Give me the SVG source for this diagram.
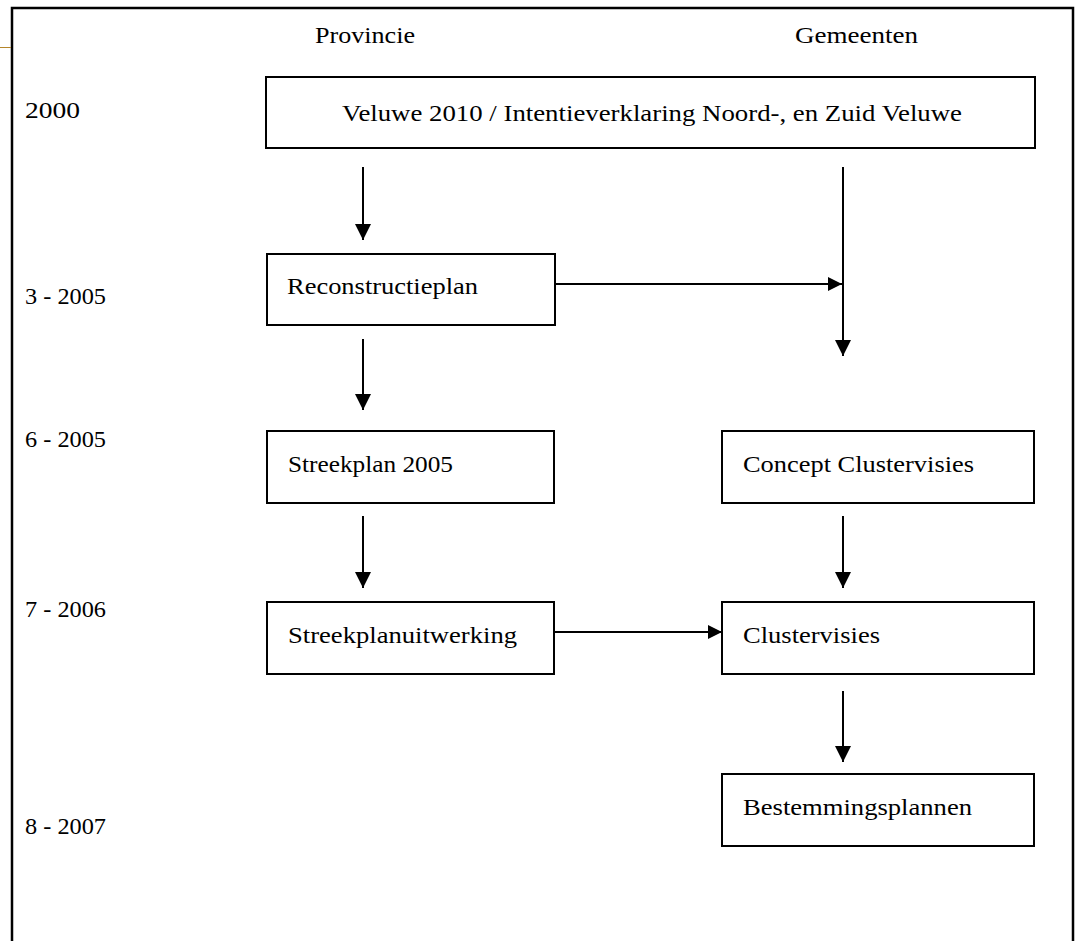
<svg xmlns="http://www.w3.org/2000/svg" width="1079" height="941" viewBox="0 0 1079 941">
<style>
.t{font-family:"Liberation Serif","Times New Roman",serif;font-size:24px;fill:#000}
.b{fill:#fff;stroke:#000;stroke-width:2}
.c{stroke:#000;stroke-width:2;fill:none}
.f{stroke:#000;stroke-width:2.5;fill:none}
</style>
<defs>
<marker id="ah" markerUnits="userSpaceOnUse" markerWidth="16" markerHeight="16" refX="16" refY="8" orient="auto" viewBox="0 0 16 16">
<path d="M0,0 L16,8 L0,16 z" fill="#000"/>
</marker>
<marker id="ah2" markerUnits="userSpaceOnUse" markerWidth="14" markerHeight="14" refX="14" refY="7" orient="auto" viewBox="0 0 14 14">
<path d="M0,0 L14,7 L0,14 z" fill="#000"/>
</marker>
</defs>
<rect width="1079" height="941" fill="#fff"/>
<g id="frame">
<path class="f" d="M12,941 L12,8 L1073,8 L1073,941"/>
<line x1="0" y1="47.5" x2="11" y2="47.5" stroke="#b5862b" stroke-width="1"/>
</g>
<g id="labels">
<text class="t" x="315" y="43" textLength="100" lengthAdjust="spacingAndGlyphs">Provincie</text>
<text class="t" x="795" y="43" textLength="123" lengthAdjust="spacingAndGlyphs">Gemeenten</text>
<text class="t" x="25" y="118" textLength="55" lengthAdjust="spacingAndGlyphs">2000</text>
<text class="t" x="25" y="304" textLength="81" lengthAdjust="spacingAndGlyphs">3 - 2005</text>
<text class="t" x="25" y="447" textLength="81" lengthAdjust="spacingAndGlyphs">6 - 2005</text>
<text class="t" x="25" y="617" textLength="81" lengthAdjust="spacingAndGlyphs">7 - 2006</text>
<text class="t" x="25" y="834" textLength="81" lengthAdjust="spacingAndGlyphs">8 - 2007</text>
</g>
<g id="veluwe">
<rect class="b" x="266" y="77" width="769" height="71"/>
<text class="t" x="342" y="121" textLength="620" lengthAdjust="spacingAndGlyphs">Veluwe 2010 / Intentieverklaring Noord-, en Zuid Veluwe</text>
</g>
<g id="reconstructieplan">
<rect class="b" x="267" y="254" width="288" height="71"/>
<text class="t" x="287" y="294" textLength="191" lengthAdjust="spacingAndGlyphs">Reconstructieplan</text>
</g>
<g id="streekplan">
<rect class="b" x="267" y="431" width="287" height="72"/>
<text class="t" x="288" y="472" textLength="165" lengthAdjust="spacingAndGlyphs">Streekplan 2005</text>
</g>
<g id="concept">
<rect class="b" x="722" y="431" width="312" height="72"/>
<text class="t" x="743" y="472" textLength="231" lengthAdjust="spacingAndGlyphs">Concept Clustervisies</text>
</g>
<g id="streekplanuitwerking">
<rect class="b" x="267" y="602" width="287" height="72"/>
<text class="t" x="288" y="643" textLength="229" lengthAdjust="spacingAndGlyphs">Streekplanuitwerking</text>
</g>
<g id="clustervisies">
<rect class="b" x="722" y="602" width="312" height="72"/>
<text class="t" x="743" y="643" textLength="137" lengthAdjust="spacingAndGlyphs">Clustervisies</text>
</g>
<g id="bestemmingsplannen">
<rect class="b" x="722" y="774" width="312" height="72"/>
<text class="t" x="743" y="815" textLength="229" lengthAdjust="spacingAndGlyphs">Bestemmingsplannen</text>
</g>
<g id="connectors">
<line class="c" x1="363" y1="167" x2="363" y2="240" marker-end="url(#ah)"/>
<line class="c" x1="363" y1="339" x2="363" y2="410" marker-end="url(#ah)"/>
<line class="c" x1="363" y1="516" x2="363" y2="588" marker-end="url(#ah)"/>
<line class="c" x1="843" y1="167" x2="843" y2="356" marker-end="url(#ah)"/>
<line class="c" x1="843" y1="516" x2="843" y2="588" marker-end="url(#ah)"/>
<line class="c" x1="843" y1="691" x2="843" y2="762" marker-end="url(#ah)"/>
<line class="c" x1="555" y1="284" x2="842" y2="284" stroke-width="1.5" marker-end="url(#ah2)"/>
<line class="c" x1="554" y1="632" x2="722" y2="632" stroke-width="1.5" marker-end="url(#ah2)"/>
</g>
</svg>
